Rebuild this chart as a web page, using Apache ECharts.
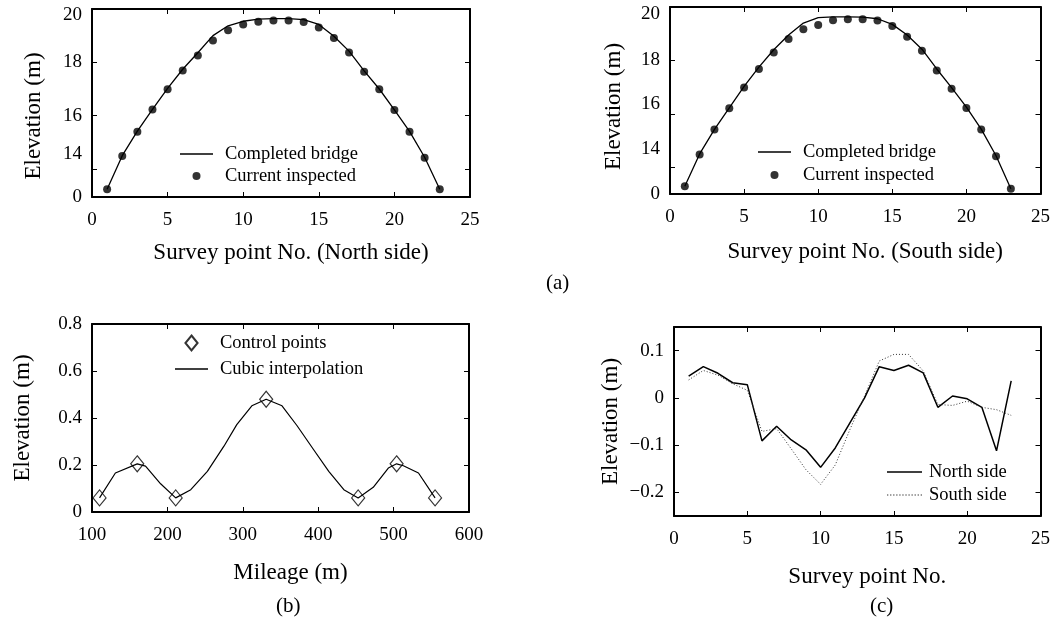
<!DOCTYPE html>
<html>
<head>
<meta charset="utf-8">
<title>Bridge elevation survey</title>
<script src="https://cdn.jsdelivr.net/npm/echarts@6/dist/echarts.min.js"></script>
<style>
  html, body { margin: 0; padding: 0; background: #fff; }
  #chart { width: 1053px; height: 626px; }
</style>
</head>
<body>
<div id="chart"></div>
<script>
  // survey points 1..23 on each side of the bridge
  var surveyNo = [1, 2, 3, 4, 5, 6, 7, 8, 9, 10, 11, 12, 13, 14, 15, 16, 17, 18, 19, 20, 21, 22, 23];

  // (a) north side
  var northBridge = [13.24, 14.5, 15.42, 16.24, 17.02, 17.74, 18.36, 19.0, 19.37, 19.54, 19.62, 19.64, 19.64, 19.6, 19.42, 18.98, 18.42, 17.68, 17.0, 16.22, 15.41, 14.44, 13.24];
  var northInspected = [13.24, 14.49, 15.4, 16.23, 16.99, 17.69, 18.26, 18.82, 19.2, 19.42, 19.52, 19.57, 19.57, 19.51, 19.31, 18.91, 18.37, 17.65, 16.99, 16.21, 15.4, 14.42, 13.24];

  // (a) south side
  var southBridge = [13.29, 14.5, 15.42, 16.22, 17.03, 17.75, 18.4, 18.95, 19.4, 19.6, 19.63, 19.63, 19.62, 19.56, 19.35, 18.95, 18.42, 17.68, 16.98, 16.25, 15.43, 14.43, 13.2];
  var southInspected = [13.29, 14.48, 15.41, 16.21, 16.99, 17.68, 18.3, 18.8, 19.17, 19.33, 19.5, 19.54, 19.54, 19.49, 19.29, 18.89, 18.36, 17.62, 16.94, 16.22, 15.41, 14.41, 13.2];

  // (b) control points and cubic interpolation
  var controlMileage = [110, 160, 211, 331, 453, 504, 555];
  var controlElev = [0.06, 0.205, 0.06, 0.48, 0.06, 0.205, 0.06];
  var cubicMileage = [110, 131, 160, 171, 191, 211, 231, 253, 275, 292, 312, 331, 352, 372, 394, 414, 434, 453, 473, 493, 504, 513, 533, 555];
  var cubicElev = [0.06, 0.166, 0.205, 0.195, 0.12, 0.06, 0.095, 0.173, 0.28, 0.372, 0.452, 0.48, 0.452, 0.367, 0.265, 0.173, 0.095, 0.06, 0.105, 0.187, 0.205, 0.197, 0.166, 0.06];

  // (c) differences
  var northDiff = [0.046, 0.066, 0.052, 0.032, 0.028, -0.091, -0.06, -0.089, -0.11, -0.147, -0.106, -0.053, 0.0, 0.066, 0.058, 0.069, 0.053, -0.02, 0.004, -0.002, -0.02, -0.112, 0.036];
  var southDiff = [0.038, 0.058, 0.048, 0.03, 0.016, -0.071, -0.065, -0.108, -0.152, -0.183, -0.142, -0.067, 0.004, 0.078, 0.092, 0.092, 0.057, -0.014, -0.016, -0.007, -0.02, -0.025, -0.037];

  // tick labels
  var topYLabels = [14, 16, 18, 20];
  var mileageYLabels = [0, 0.2, 0.4, 0.6, 0.8];
  var diffYLabels = [-0.2, -0.1, 0, 0.1];

  var FONT = '"Liberation Serif", "Times New Roman", serif';

  function zip(xs, ys) {
    var out = [];
    for (var i = 0; i < xs.length; i++) out.push([xs[i], ys[i]]);
    return out;
  }

  // the scanned labels sit a little off their ticks; shift (px, + is down) per value
  function labelStyle(fmt, shifts) {
    var rich = {};
    var base = { fontFamily: FONT, fontSize: 19, color: '#000' };
    Object.keys(shifts).forEach(function (k) {
      var s = shifts[k];
      rich['s' + k.replace('.', '_').replace('-', 'm')] = Object.assign({}, base, {
        padding: s > 0 ? [2 * s, 0, 0, 0] : [0, 0, -2 * s, 0]
      });
    });
    return {
      rich: rich,
      formatter: function (v) {
        var txt = fmt ? fmt(v) : String(v);
        var key = String(v);
        if (shifts[key] !== undefined) return '{s' + key.replace('.', '_').replace('-', 'm') + '|' + txt + '}';
        return txt;
      }
    };
  }

  var axisBase = {
    axisLine: { onZero: false, lineStyle: { color: '#000', width: 2 } },
    splitLine: { show: false }
  };

  function bottomAxis(grid, min, max, interval, name, gap) {
    return Object.assign({}, axisBase, {
      type: 'value', gridIndex: grid, position: 'bottom',
      min: min, max: max, interval: interval,
      name: name, nameLocation: 'middle', nameGap: gap,
      nameTextStyle: { fontFamily: FONT, fontSize: 23, color: '#000', padding: [0, 0, 0, 20] },
      axisTick: { inside: true, length: 5, lineStyle: { color: '#000' } },
      axisLabel: { margin: 14, fontFamily: FONT, fontSize: 19, color: '#000' }
    });
  }

  function topAxis(grid, min, max, interval) {
    return Object.assign({}, axisBase, {
      type: 'value', gridIndex: grid, position: 'top',
      min: min, max: max, interval: interval,
      axisTick: { inside: true, length: 5, lineStyle: { color: '#000' } },
      axisLabel: { show: false }
    });
  }

  function leftAxis(grid, min, max, gap, namePad, labels, ticks, fmt, shifts) {
    var ls = labelStyle(fmt, shifts);
    return Object.assign({}, axisBase, {
      type: 'value', gridIndex: grid, position: 'left',
      min: min, max: max,
      name: 'Elevation (m)', nameLocation: 'middle', nameGap: gap,
      nameTextStyle: { fontFamily: FONT, fontSize: 23, color: '#000', padding: namePad },
      axisTick: { inside: true, length: 5, lineStyle: { color: '#000' }, customValues: ticks },
      axisLabel: { margin: 10, fontFamily: FONT, fontSize: 19, color: '#000',
        customValues: labels, formatter: ls.formatter, rich: ls.rich }
    });
  }

  function rightAxis(grid, min, max, ticks) {
    return Object.assign({}, axisBase, {
      type: 'value', gridIndex: grid, position: 'right',
      min: min, max: max,
      axisTick: { inside: true, length: 5, lineStyle: { color: '#000' }, customValues: ticks },
      axisLabel: { show: false }
    });
  }

  var topFmt = function (v) { return v < 13.5 ? '0' : String(v); };
  var diffFmt = function (v) { return String(v).replace('-', '\u2212'); };

  // legend icons
  var solidIcon = 'path://M0,0H33V1.4H0Z';
  var solidIconC = 'path://M0,0H35V1.6H0Z';
  var dotIcon = (function () {
    var p = 'path://';
    for (var i = 0; i < 12; i++) p += 'M' + (i * 3) + ',0h1.3v1h-1.3Z';
    return p;
  })();
  var diamondIcon = 'path://M6.5,0L13,8L6.5,16L0,8Z';

  var legendText = { fontFamily: FONT, fontSize: 18.5, color: '#000', lineHeight: 20, padding: [0, 0, 0, 7] };
  var captionStyle = { fontFamily: FONT, fontSize: 21, fontWeight: 'normal', color: '#000' };

  var option = {
    animation: false,
    backgroundColor: '#fff',
    title: [
      { text: '(a)', left: 546, top: 273, padding: 0, textStyle: captionStyle },
      { text: '(b)', left: 276, top: 596, padding: 0, textStyle: captionStyle },
      { text: '(c)', left: 870, top: 596, padding: 0, textStyle: captionStyle }
    ],
    grid: [
      { left: 92, top: 9, width: 378, height: 188 },
      { left: 670, top: 7, width: 377, height: 187 },
      { left: 92, top: 324, width: 377, height: 188 },
      { left: 674, top: 327, width: 377, height: 189 }
    ],
    legend: [
      { data: [{ name: 'Completed bridge', icon: solidIcon }, 'Current inspected'], orient: 'vertical', left: 180, top: 144, padding: 0,
        itemWidth: 33, itemHeight: 8, itemGap: 2, textStyle: legendText, selectedMode: false },
      { data: [{ name: 'Completed bridge', icon: solidIcon }, 'Current inspected'], orient: 'vertical', left: 758, top: 142, padding: 0,
        itemWidth: 33, itemHeight: 8, itemGap: 3, textStyle: legendText, selectedMode: false },
      { data: [{ name: 'Control points', icon: diamondIcon }, { name: 'Cubic interpolation', icon: solidIcon }], orient: 'vertical', left: 175, top: 333, padding: 0,
        itemWidth: 33, itemHeight: 15, itemGap: 6, textStyle: legendText, selectedMode: false },
      { data: [{ name: 'North side', icon: solidIconC }, { name: 'South side', icon: dotIcon }], orient: 'vertical', left: 887, top: 462, padding: 0,
        itemWidth: 35, itemHeight: 8, itemGap: 3, selectedMode: false,
        textStyle: { fontFamily: FONT, fontSize: 18.5, color: '#000', lineHeight: 20, padding: [0, 0, 0, 2] } }
    ],
    xAxis: [
      bottomAxis(0, 0, 25, 5, 'Survey point No. (North side)', 44),
      topAxis(0, 0, 25, 5),
      bottomAxis(1, 0, 25, 5, 'Survey point No. (South side)', 46),
      topAxis(1, 0, 25, 5),
      bottomAxis(2, 100, 600, 100, 'Mileage (m)', 49),
      topAxis(2, 100, 600, 100),
      bottomAxis(3, 0, 25, 5, 'Survey point No.', 49),
      topAxis(3, 0, 25, 5)
    ],
    yAxis: [
      leftAxis(0, 12.95, 20, 47, [0, 26, 0, 0], [12.95].concat(topYLabels), [14, 16, 18], topFmt, { '20': 6, '14': -15 }),
      rightAxis(0, 12.95, 20, [14, 16, 18]),
      leftAxis(1, 13, 20, 45, [0, 12, 0, 0], [13].concat(topYLabels), [14, 16, 18], topFmt, { '20': 7, '16': -10, '14': -18 }),
      rightAxis(1, 13, 20, [14, 16, 18]),
      leftAxis(2, 0, 0.8, 58, 0, mileageYLabels, [0.2, 0.4, 0.6], null, {}),
      rightAxis(2, 0, 0.8, [0.2, 0.4, 0.6]),
      leftAxis(3, -0.25, 0.15, 52, 0, diffYLabels, diffYLabels, diffFmt, {}),
      rightAxis(3, -0.25, 0.15, diffYLabels)
    ],
    series: [
      { name: 'Completed bridge', type: 'line', xAxisIndex: 0, yAxisIndex: 0, symbol: 'none',
        lineStyle: { color: '#000', width: 1.3 }, itemStyle: { color: '#000' }, data: zip(surveyNo, northBridge) },
      { name: 'Current inspected', type: 'scatter', xAxisIndex: 0, yAxisIndex: 0, symbol: 'circle', symbolSize: 8,
        itemStyle: { color: '#000' }, data: zip(surveyNo, northInspected) },
      { name: 'Completed bridge', type: 'line', xAxisIndex: 2, yAxisIndex: 2, symbol: 'none',
        lineStyle: { color: '#000', width: 1.3 }, itemStyle: { color: '#000' }, data: zip(surveyNo, southBridge) },
      { name: 'Current inspected', type: 'scatter', xAxisIndex: 2, yAxisIndex: 2, symbol: 'circle', symbolSize: 8,
        itemStyle: { color: '#000' }, data: zip(surveyNo, southInspected) },
      { name: 'Control points', type: 'scatter', xAxisIndex: 4, yAxisIndex: 4, symbol: 'diamond', symbolSize: [13, 16], z: 3,
        itemStyle: { color: 'rgba(255,255,255,0)', borderColor: '#000', borderWidth: 1.2 }, data: zip(controlMileage, controlElev) },
      { name: 'Cubic interpolation', type: 'line', xAxisIndex: 4, yAxisIndex: 4, symbol: 'none',
        lineStyle: { color: '#000', width: 1.2 }, itemStyle: { color: '#000' }, data: zip(cubicMileage, cubicElev) },
      { name: 'North side', type: 'line', xAxisIndex: 6, yAxisIndex: 6, symbol: 'none',
        lineStyle: { color: '#000', width: 1.5 }, itemStyle: { color: '#000' }, data: zip(surveyNo, northDiff) },
      { name: 'South side', type: 'line', xAxisIndex: 6, yAxisIndex: 6, symbol: 'none',
        lineStyle: { color: '#333', width: 1, type: [1, 2] }, itemStyle: { color: '#333' }, data: zip(surveyNo, southDiff) }
    ]
  };

  var chart = echarts.init(document.getElementById('chart'));
  chart.setOption(option);
</script>
</body>
</html>
